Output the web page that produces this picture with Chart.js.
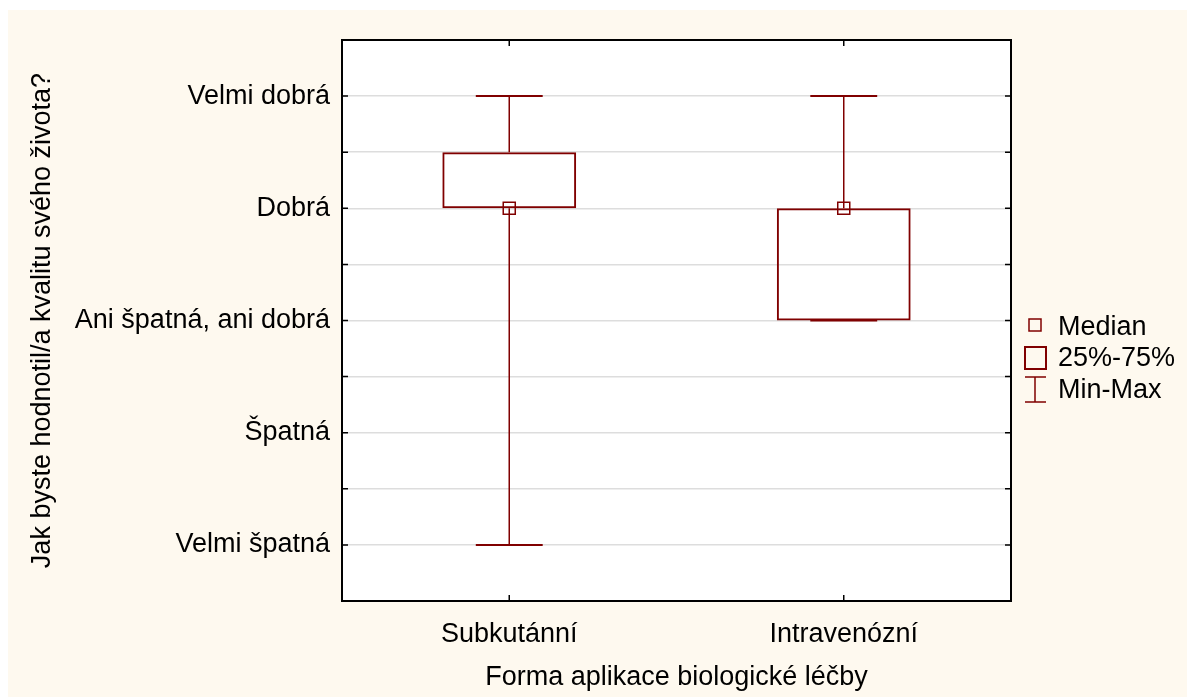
<!DOCTYPE html>
<html lang="cs">
<head>
    <meta charset="UTF-8">
    <title>Forma aplikace biologické léčby</title>
    <script src="https://cdn.jsdelivr.net/npm/chart.js"></script>
    <style>
        body {
            margin: 0;
            background: #ffffff;
        }
        #wrap {
            position: absolute;
            left: 8px;
            top: 10px;
            width: 1179px;
            height: 687px;
            background: #fef9ef;
        }
    </style>
</head>
<body>
    <div id="wrap">
        <canvas id="boxChart"></canvas>
    </div>

    <script>
        // Data
        const groups = ['Subkutánní', 'Intravenózní'];
        const mins = [1, 3];
        const q1s = [4, 3];
        const medians = [4, 4];
        const q3s = [4.5, 4];
        const maxs = [5, 5];
        const answerLabels = ['Velmi špatná', 'Špatná', 'Ani špatná, ani dobrá', 'Dobrá', 'Velmi dobrá'];

        const RED = '#800000';
        const FONT = "'Liberation Sans', Arial, sans-serif";

        // white plot area, whiskers, frame and legend
        const boxExtras = {
            id: 'boxExtras',
            beforeDraw(chart) {
                const { ctx, chartArea: a } = chart;
                ctx.save();
                ctx.fillStyle = '#ffffff';
                ctx.fillRect(a.left, a.top, a.right - a.left, a.bottom - a.top);
                ctx.restore();
            },
            beforeDatasetsDraw(chart) {
                const { ctx, scales: { x, y } } = chart;
                const capHalf = x.width / groups.length * 0.1;
                ctx.save();
                ctx.strokeStyle = RED;
                groups.forEach((g, i) => {
                    const px = x.getPixelForValue(i);
                    ctx.lineWidth = 1.5;
                    ctx.beginPath();
                    ctx.moveTo(px, y.getPixelForValue(maxs[i]));
                    ctx.lineTo(px, y.getPixelForValue(q3s[i]));
                    ctx.moveTo(px, y.getPixelForValue(q1s[i]));
                    ctx.lineTo(px, y.getPixelForValue(mins[i]));
                    ctx.stroke();
                    ctx.lineWidth = 2;
                    [mins[i], maxs[i]].forEach(v => {
                        const py = y.getPixelForValue(v);
                        ctx.beginPath();
                        ctx.moveTo(px - capHalf, py);
                        ctx.lineTo(px + capHalf, py);
                        ctx.stroke();
                    });
                });
                ctx.restore();
            },
            afterDraw(chart) {
                const { ctx, chartArea: a, scales: { x, y } } = chart;
                ctx.save();
                // frame
                ctx.strokeStyle = '#000000';
                ctx.lineWidth = 2;
                ctx.strokeRect(a.left, a.top, a.right - a.left, a.bottom - a.top);
                // inward ticks
                ctx.lineWidth = 1.5;
                ctx.beginPath();
                y.ticks.forEach(t => {
                    const py = y.getPixelForValue(t.value);
                    ctx.moveTo(a.left, py);
                    ctx.lineTo(a.left + 6, py);
                    ctx.moveTo(a.right, py);
                    ctx.lineTo(a.right - 6, py);
                });
                groups.forEach((g, i) => {
                    const px = x.getPixelForValue(i);
                    ctx.moveTo(px, a.top);
                    ctx.lineTo(px, a.top + 6);
                    ctx.moveTo(px, a.bottom);
                    ctx.lineTo(px, a.bottom - 6);
                });
                ctx.stroke();

                // legend
                const lx = a.right + 24;
                ctx.strokeStyle = RED;
                ctx.lineWidth = 1.5;
                ctx.strokeRect(lx - 6, 309, 12, 12);
                ctx.lineWidth = 2;
                ctx.strokeRect(lx - 10, 337, 21, 22);
                ctx.lineWidth = 1.5;
                ctx.beginPath();
                ctx.moveTo(lx - 10, 367); ctx.lineTo(lx + 11, 367);
                ctx.moveTo(lx - 10, 392); ctx.lineTo(lx + 11, 392);
                ctx.moveTo(lx, 367); ctx.lineTo(lx, 392);
                ctx.stroke();
                ctx.fillStyle = '#000000';
                ctx.font = '27px ' + FONT;
                ctx.textBaseline = 'alphabetic';
                ctx.textAlign = 'left';
                ctx.fillText('Median', lx + 23, 325);
                ctx.fillText('25%-75%', lx + 23, 356);
                ctx.fillText('Min-Max', lx + 23, 388);
                ctx.restore();
            }
        };

        const ctx = document.getElementById('boxChart').getContext('2d');
        new Chart(ctx, {
            type: 'bar',
            data: {
                labels: groups,
                datasets: [
                    {
                        type: 'line',
                        label: 'Median',
                        data: medians,
                        showLine: false,
                        pointStyle: 'rect',
                        pointRadius: 8.5,
                        pointBorderWidth: 1.5,
                        pointBorderColor: RED,
                        pointBackgroundColor: 'rgba(0,0,0,0)',
                        order: 0
                    },
                    {
                        label: '25%-75%',
                        data: q1s.map((q, i) => [q, q3s[i]]),
                        backgroundColor: 'rgba(0,0,0,0)',
                        borderColor: RED,
                        borderWidth: 2,
                        borderSkipped: false,
                        barPercentage: 0.4,
                        categoryPercentage: 1,
                        order: 1
                    }
                ]
            },
            options: {
                responsive: true,
                maintainAspectRatio: false,
                animation: false,
                layout: {
                    padding: { left: 0, top: 30, right: 176, bottom: 0 }
                },
                plugins: {
                    legend: { display: false },
                    tooltip: { enabled: false }
                },
                scales: {
                    x: {
                        grid: { display: false },
                        border: { display: false },
                        ticks: {
                            color: '#000000',
                            padding: 9,
                            font: { family: FONT, size: 27 }
                        },
                        title: {
                            display: true,
                            text: 'Forma aplikace biologické léčby',
                            color: '#000000',
                            padding: { top: 0, bottom: 3 },
                            font: { family: FONT, size: 27 }
                        },
                        afterFit(scale) { scale.height = 96; }
                    },
                    y: {
                        min: 0.5,
                        max: 5.5,
                        grid: { color: '#dddddd', lineWidth: 1.5, drawTicks: false },
                        border: { display: false },
                        ticks: {
                            stepSize: 0.5,
                            autoSkip: false,
                            color: '#000000',
                            padding: 12,
                            font: { family: FONT, size: 27 },
                            callback: v => Number.isInteger(v) ? answerLabels[v - 1] : ''
                        },
                        title: {
                            display: true,
                            text: 'Jak byste hodnotil/a kvalitu svého života?',
                            color: '#000000',
                            padding: { top: 18, bottom: 0 },
                            font: { family: FONT, size: 27 }
                        },
                        afterFit(scale) { scale.width = 334; }
                    }
                }
            },
            plugins: [boxExtras]
        });
    </script>
</body>
</html>
